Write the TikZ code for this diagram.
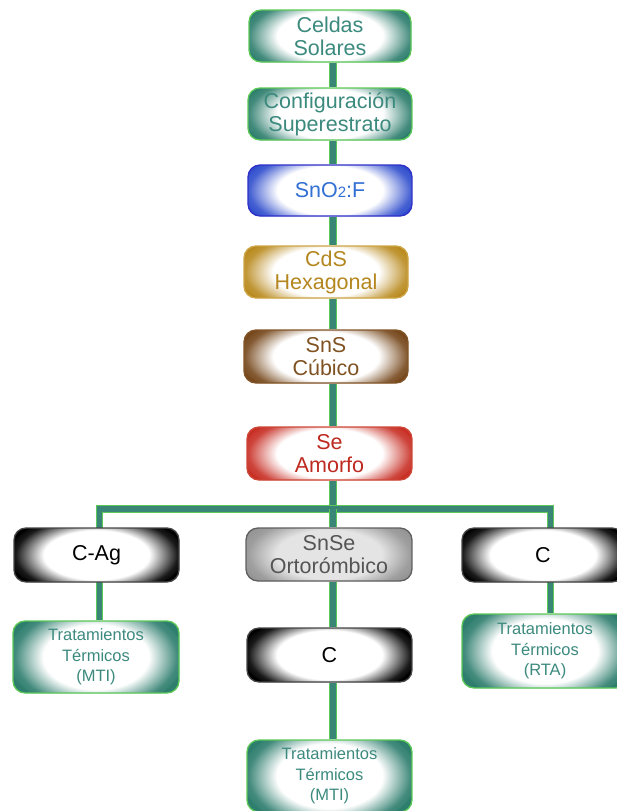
\documentclass[tikz,border=0pt]{standalone}
\usepackage{fontspec}
\setmainfont{Liberation Sans}
\usetikzlibrary{backgrounds}

% palette
\definecolor{leaf}{RGB}{92,200,88}
\definecolor{tealdk}{RGB}{46,126,110}
\definecolor{tealtx}{RGB}{60,138,126}
\definecolor{bluebd}{RGB}{48,48,200}
\definecolor{blueed}{RGB}{48,78,205}
\definecolor{bluetx}{RGB}{50,112,212}
\definecolor{goldbd}{RGB}{205,165,70}
\definecolor{golded}{RGB}{185,138,30}
\definecolor{goldtx}{RGB}{180,135,30}
\definecolor{brownbd}{RGB}{130,85,40}
\definecolor{browned}{RGB}{118,72,28}
\definecolor{browntx}{RGB}{128,82,34}
\definecolor{redbd}{RGB}{205,70,55}
\definecolor{reded}{RGB}{200,48,38}
\definecolor{redtx}{RGB}{190,42,32}
\definecolor{inkbd}{RGB}{70,70,70}
\definecolor{greybd}{RGB}{95,95,95}
\definecolor{greyed}{RGB}{150,150,150}
\definecolor{greyin}{RGB}{228,228,228}
\definecolor{greytx}{RGB}{85,85,85}
\definecolor{wirefill}{RGB}{58,134,118}

% white core fading out to a coloured rim (25bp = rim of the shaded shape)
\colorlet{glowin}{white}
\colorlet{glowout}{black}
\pgfdeclareradialshading[glowin,glowout]{glow}{\pgfpoint{0bp}{0bp}}{%
  color(0bp)=(glowin); color(15bp)=(glowin); color(19bp)=(glowout!45!glowin);
  color(23bp)=(glowout!90!glowin); color(26bp)=(glowout); color(50bp)=(glowout)}

\tikzset{
  card/.style={rounded corners=12pt, align=center, inner sep=0pt, line width=1.3pt,
    glowfill={88pt}{41pt}},
  glowfill/.style 2 args={path picture={
    \fill[glowout] (path picture bounding box.south west) rectangle (path picture bounding box.north east);
    \shade[shading=glow] (path picture bounding box.center) ellipse [x radius=#1, y radius=#2];}},
  tall/.style={glowfill={88pt}{54pt}},
  tone/.style n args={4}{draw=#1, text=#4,
    /utils/exec={\colorlet{glowout}{#2}\colorlet{glowin}{#3}}},
  big/.style={font=\fontsize{21.5}{23}\selectfont},
  small/.style={font=\fontsize{16.5}{20.5}\selectfont},
  mint/.style={tone={leaf}{tealdk}{white}{tealtx}},
  sky/.style={tone={bluebd}{blueed}{white}{bluetx}},
  gold/.style={tone={goldbd}{golded}{white}{goldtx}},
  bark/.style={tone={brownbd}{browned}{white}{browntx}},
  ember/.style={tone={redbd}{reded}{white}{redtx}},
  ink/.style={tone={inkbd}{black}{white}{black}},
  ash/.style={tone={greybd}{greyed}{greyin}{greytx}},
  wire/.style={draw=leaf, line width=1.2pt, double=wirefill, double distance=5.5pt},
}

\begin{document}
\begin{tikzpicture}[x=1pt,y=-1pt]
  \useasboundingbox (0,0) rectangle (617,811);
  \clip (0,0) rectangle (617,811);

  % main column
  \node[card, mint, big, minimum width=162pt, minimum height=52pt] (celdas) at (330,36) {Celdas\\Solares};
  \node[card, mint, big, minimum width=164pt, minimum height=52pt] (config) at (330,114) {Configuración\\Superestrato};
  \node[card, sky, big, minimum width=164pt, minimum height=51pt] (sno) at (330,190.5) {SnO{\fontsize{15}{15}\selectfont 2}:F};
  \node[card, gold, big, minimum width=164pt, minimum height=52pt] (cds) at (326,272) {CdS\\Hexagonal};
  \node[card, bark, big, minimum width=164pt, minimum height=53pt] (sns) at (326,356.5) {SnS\\Cúbico};
  \node[card, ember, big, minimum width=165pt, minimum height=53pt] (se) at (329.5,453.5) {Se\\Amorfo};

  % branches
  \node[card, ink, big, minimum width=165pt, minimum height=54pt] (cag) at (96.5,555) {C-Ag};
  \node[card, ash, big, minimum width=166pt, minimum height=53pt] (snse) at (329,554.5) {SnSe\\Ortorómbico};
  \node[card, ink, big, minimum width=162pt, minimum height=54pt] (cright) at (543,555) {C};

  \node[card, tall, mint, small, minimum width=166pt, minimum height=72pt] (trat1) at (96,657) {Tratamientos\\Térmicos\\(MTI)};
  \node[card, ink, big, minimum width=165pt, minimum height=54pt] (cmid) at (329.5,655) {C};
  \node[card, tall, mint, small, minimum width=166pt, minimum height=74pt] (trat3) at (545,651) {Tratamientos\\Térmicos\\(RTA)};
  \node[card, tall, mint, small, minimum width=165pt, minimum height=72pt] (trat2) at (329.5,776) {Tratamientos\\Térmicos\\(MTI)};

  % junction points of the connector tree
  \coordinate (trunk) at (333,509);
  \coordinate (barL) at (99.5,509);
  \coordinate (barR) at (550.5,509);

  \begin{pgfonlayer}{background}
    \draw[wire] (celdas.south -| trunk) -- (config.north -| trunk);
    \draw[wire] (config.south -| trunk) -- (sno.north -| trunk);
    \draw[wire] (sno.south -| trunk) -- (cds.north -| trunk);
    \draw[wire] (cds.south -| trunk) -- (sns.north -| trunk);
    \draw[wire] (sns.south -| trunk) -- (se.north -| trunk);
    \draw[wire] (se.south -| trunk) -- (trunk);
    \draw[wire] (trat1.north -| barL) -- (barL) -- (barR) -- (trat3.north -| barR);
    \draw[wire] (trunk) -- (snse.north -| trunk);
    \draw[wire] (snse.south -| trunk) -- (cmid.north -| trunk);
    \draw[wire] (cmid.south -| trunk) -- (trat2.north -| trunk);
  \end{pgfonlayer}
\end{tikzpicture}
\end{document}
